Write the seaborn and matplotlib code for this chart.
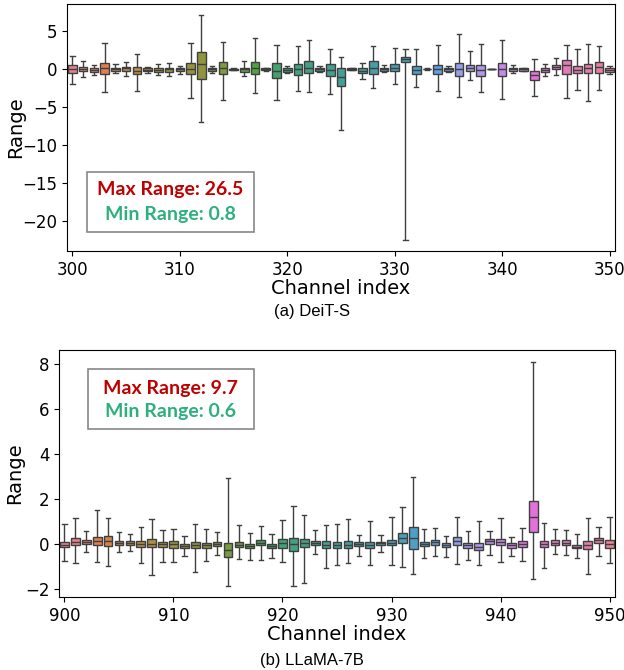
import numpy as np
import pandas as pd
import matplotlib
matplotlib.use("Agg")
import matplotlib.pyplot as plt
import seaborn as sns
from matplotlib.patches import Rectangle

# (a) DeiT-S, channels 300-350: whisker low, q1, median, q3, whisker high
ch_a = list(range(300, 351))
lo_a = [-1.97, -1.0, -0.8, -3.0, -0.57, -0.85, -2.9, -0.5, -0.8, -0.85,
        -0.6, -3.85, -7.0, -0.5, -4.1, -0.15, -0.9, -3.15, -0.2, -4.1,
        -0.5, -2.85, -3.0, -0.4, -3.25, -7.95, -0.15, -1.25, -2.45, -0.4,
        -1.95, -22.5, -2.3, -0.1, -2.9, -0.4, -3.7, -1.4, -3.0, -0.05,
        -3.9, -0.55, -0.2, -3.5, -0.95, -0.8, -3.8, -2.7, -4.25, -2.7, -0.65]
q1_a = [-0.57, -0.3, -0.4, -0.6, -0.25, -0.3, -0.65, -0.3, -0.35, -0.4,
        -0.3, -0.7, -1.3, -0.3, -0.7, -0.1, -0.35, -0.7, -0.15, -1.2,
        -0.35, -0.8, -0.55, -0.25, -0.85, -2.2, -0.1, -0.5, -0.65, -0.25,
        -0.3, 0.9, -0.7, -0.05, -0.6, -0.3, -0.9, -0.2, -0.9, -0.03,
        -0.95, -0.25, -0.2, -1.4, -0.35, -0.05, -0.65, -0.55, -0.55, -0.5, -0.35]
med_a = [0.0, 0.05, -0.1, 0.1, 0.0, 0.1, -0.2, -0.1, -0.1, 0.0,
         0.0, 0.0, 0.65, 0.0, 0.1, 0.0, 0.0, 0.2, 0.0, -0.2,
         -0.1, 0.0, 0.2, 0.0, -0.1, -1.05, 0.0, -0.2, 0.2, 0.0,
         0.2, 1.27, -0.1, 0.0, 0.05, 0.0, 0.0, 0.2, -0.1, 0.0,
         0.0, 0.0, 0.0, -0.75, -0.1, 0.25, 0.5, -0.1, 0.1, 0.25, -0.1]
q3_a = [0.53, 0.26, 0.1, 0.8, 0.2, 0.25, 0.3, 0.1, 0.2, 0.2,
        0.2, 0.75, 2.2, 0.2, 0.9, 0.05, 0.2, 0.9, 0.1, 0.75,
        0.2, 0.7, 1.05, 0.2, 0.65, 0.1, 0.1, 0.1, 1.0, 0.2,
        0.65, 1.6, 0.45, 0.05, 0.6, 0.2, 0.8, 0.55, 0.6, 0.03,
        0.75, 0.2, 0.1, -0.2, 0.1, 0.55, 1.2, 0.45, 0.7, 0.9, 0.1]
hi_a = [1.75, 1.1, 0.6, 3.4, 0.65, 0.9, 2.0, 0.3, 0.65, 0.85,
        0.45, 3.4, 7.05, 0.45, 3.55, 0.15, 1.0, 4.1, 0.2, 3.15,
        0.45, 3.05, 3.8, 0.4, 2.7, 1.6, 0.2, 0.75, 3.05, 0.5,
        2.8, 2.7, 2.7, 0.1, 3.1, 0.4, 4.6, 2.4, 3.3, 0.05,
        3.85, 0.55, 0.2, 1.35, 0.65, 1.45, 3.2, 2.7, 3.3, 3.0, 0.4]

# (b) LLaMA-7B, channels 900-950
ch_b = list(range(900, 951))
lo_b = [-0.74, -0.83, -0.34, -0.79, -0.98, -0.36, -0.30, -0.86, -1.38, -0.80,
        -0.80, -0.55, -1.27, -0.76, -0.49, -1.85, -0.65, -0.73, -0.73, -0.61,
        -0.81, -1.85, -1.72, -0.44, -1.05, -0.92, -0.83, -0.52, -0.93, -0.34,
        -0.93, -1.04, -1.32, -0.64, -0.53, -0.56, -0.90, -0.70, -0.95, -0.49,
        -0.81, -0.52, -0.76, -1.54, -1.05, -0.43, -0.49, -0.62, -1.32, -0.53, -0.83]
q1_b = [-0.15, -0.06, -0.01, -0.04, -0.10, -0.03, -0.03, -0.15, -0.12, -0.12,
        -0.16, -0.20, -0.20, -0.18, -0.09, -0.60, -0.13, -0.18, -0.07, -0.19,
        -0.16, -0.31, -0.15, -0.06, -0.18, -0.19, -0.19, -0.10, -0.20, -0.06,
        -0.07, 0.03, -0.21, -0.09, -0.03, -0.13, -0.04, -0.19, -0.27, 0.01,
        -0.06, -0.16, -0.15, 0.53, -0.15, -0.04, -0.06, -0.20, -0.24, 0.03, -0.18]
med_b = [-0.03, 0.09, 0.09, 0.15, 0.12, 0.06, 0.06, 0.00, 0.01, 0.00,
         -0.01, -0.09, -0.03, -0.06, 0.01, -0.28, -0.03, -0.09, 0.06, -0.09,
         0.03, -0.01, 0.04, 0.04, -0.04, -0.06, -0.04, -0.01, -0.07, 0.03,
         0.06, 0.25, 0.25, 0.01, 0.07, -0.06, 0.13, -0.07, -0.12, 0.15,
         0.10, -0.06, -0.01, 1.20, 0.00, 0.06, 0.06, -0.12, -0.04, 0.16, 0.01]
q3_b = [0.09, 0.28, 0.16, 0.30, 0.33, 0.13, 0.12, 0.12, 0.24, 0.10,
        0.12, 0.00, 0.07, 0.06, 0.09, 0.03, 0.07, 0.00, 0.18, 0.00,
        0.21, 0.25, 0.21, 0.15, 0.12, 0.10, 0.12, 0.09, 0.07, 0.09,
        0.18, 0.47, 0.76, 0.09, 0.16, 0.03, 0.31, 0.03, 0.06, 0.22,
        0.24, 0.03, 0.15, 1.90, 0.15, 0.16, 0.16, -0.04, 0.13, 0.25, 0.18]
hi_b = [0.87, 1.13, 0.59, 1.50, 1.16, 0.55, 0.44, 0.77, 1.10, 0.64,
        0.68, 0.36, 0.87, 0.65, 0.55, 2.92, 0.86, 0.49, 0.80, 0.43,
        1.05, 1.70, 1.29, 0.61, 0.86, 0.87, 1.10, 0.41, 1.04, 0.41,
        1.21, 1.66, 2.99, 0.65, 0.70, 0.37, 1.20, 0.59, 1.00, 0.58,
        1.16, 0.31, 0.71, 8.10, 0.95, 0.65, 0.62, 0.44, 1.14, 0.77, 1.21]


def long_table(ch, lo, q1, med, q3, hi):
    rows = []
    for i, c in enumerate(ch):
        for v in (lo[i], q1[i], med[i], q3[i], hi[i]):
            rows.append({"channel": c, "value": v})
    return pd.DataFrame(rows)


df_a = long_table(ch_a, lo_a, q1_a, med_a, q3_a, hi_a)
df_b = long_table(ch_b, lo_b, q1_b, med_b, q3_b, hi_b)

fig = plt.figure(figsize=(6.24, 6.7), dpi=100)
ax1 = fig.add_axes([67 / 624, 1 - 251 / 670, 548 / 624, 247 / 670])
ax2 = fig.add_axes([59 / 624, 1 - 597 / 670, 556 / 624, 247 / 670])


def draw(ax, df, ch):
    sns.boxplot(data=df, x="channel", y="value", hue="channel",
                palette="husl", legend=False, whis=(0, 100),
                showfliers=False, ax=ax)
    ax.set_xlim(-0.5, len(ch) - 0.5)
    ax.set_xticks(range(0, len(ch), 10), [str(c) for c in ch[::10]])
    ax.set_xlabel("Channel index", fontsize=14, labelpad=0)
    ax.set_ylabel("Range", fontsize=14)
    ax.tick_params(labelsize=12)


draw(ax1, df_a, ch_a)
ax1.set_ylim(-23.9, 8.55)
ax1.set_yticks([-20, -15, -10, -5, 0, 5])
ax1.yaxis.set_label_coords(-0.077, 0.5)

draw(ax2, df_b, ch_b)
ax2.set_ylim(-2.36, 8.62)
ax2.set_yticks([-2, 0, 2, 4, 6, 8])
ax2.yaxis.set_label_coords(-0.062, 0.5)


def note(ax, x0, y0, w, h, xc, y1, y2, t1, t2):
    ax.add_patch(Rectangle((x0, y0), w, h, transform=ax.transAxes,
                           facecolor="white", edgecolor="#888888",
                           linewidth=1.2, zorder=5))
    ax.text(xc, y1, t1, transform=ax.transAxes, ha="center", va="center",
            color="#c00000", fontsize=14, fontweight="bold",
            family="Lato", zorder=6)
    ax.text(xc, y2, t2, transform=ax.transAxes, ha="center", va="center",
            color="#2db07e", fontsize=14, fontweight="bold",
            family="Lato", zorder=6)


note(ax1, 0.0365, 0.077, 0.3045, 0.243, 0.189, 0.247, 0.146,
     "Max Range: 26.5", "Min Range: 0.8")
note(ax2, 0.052, 0.68, 0.299, 0.243, 0.2, 0.846, 0.749,
     "Max Range: 9.7", "Min Range: 0.6")

fig.text(0.5, 1 - 312 / 670, "(a) DeiT-S", ha="center", va="center",
         fontsize=12, family="Liberation Sans")
fig.text(0.5, 1 - 660 / 670, "(b) LLaMA-7B", ha="center", va="center",
         fontsize=12, family="Liberation Sans")

fig.savefig("out.png", dpi=100)
